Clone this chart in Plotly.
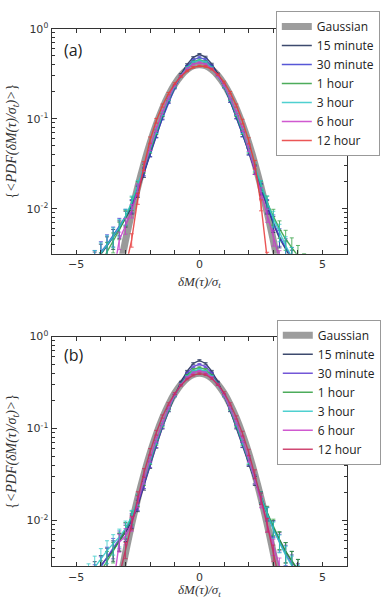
import plotly.graph_objects as go

# ---------------- data ----------------
X = [-4.5, -4.25, -4.0, -3.75, -3.5, -3.25, -3.0, -2.75, -2.5, -2.25, -2.0, -1.75, -1.5,
     -1.25, -1.0, -0.75, -0.5, -0.25, 0.0, 0.25, 0.5, 0.75, 1.0, 1.25, 1.5, 1.75, 2.0,
     2.25, 2.5, 2.75, 3.0, 3.25, 3.5, 3.75, 4.0, 4.25, 4.5]

GAUSS = [None, None, None, None, 0.00087, 0.00203, 0.00443, 0.0091, 0.0175, 0.0317, 0.0540,
         0.0863, 0.1295, 0.1826, 0.2420, 0.3011, 0.3521, 0.3867, 0.3989, 0.3867, 0.3521,
         0.3011, 0.2420, 0.1826, 0.1295, 0.0863, 0.0540, 0.0317, 0.0175, 0.0091, 0.00443,
         0.00203, 0.00087, None, None, None, None]

# relative error of each bin
REL_ERR = [0.35, 0.32, 0.30, 0.28, 0.25, 0.22, 0.20, 0.17, 0.14, 0.11, 0.08, 0.06, 0.04,
           0.03, 0.025, 0.02, 0.02, 0.02, 0.02, 0.02, 0.02, 0.02, 0.025, 0.03, 0.04, 0.06,
           0.08, 0.11, 0.14, 0.17, 0.20, 0.22, 0.25, 0.28, 0.30, 0.32, 0.35]

SERIES_NAMES = ["15 minute", "30 minute", "1 hour", "3 hour", "6 hour", "12 hour"]

# panel (a)
A_15M = [None, 0.0025, 0.0031, 0.0038, 0.0047, 0.006, 0.0078, 0.0105, 0.0155, 0.025, 0.041,
         0.066, 0.103, 0.155, 0.225, 0.31, 0.40, 0.48, 0.52, 0.485, 0.405, 0.315, 0.228,
         0.157, 0.104, 0.067, 0.043, 0.027, 0.0165, 0.0105, 0.0068, 0.0047, 0.0035, 0.0027,
         None, None, None]
A_30M = [None, 0.0026, 0.0033, 0.004, 0.005, 0.0064, 0.0082, 0.0108, 0.016, 0.026, 0.041,
         0.065, 0.101, 0.152, 0.22, 0.30, 0.38, 0.45, 0.48, 0.455, 0.385, 0.305, 0.225,
         0.157, 0.104, 0.067, 0.043, 0.027, 0.0168, 0.0108, 0.0071, 0.0049, 0.0037, 0.0029,
         None, None, None]
A_1H = [None, None, 0.0025, 0.0033, 0.0043, 0.0058, 0.008, 0.0115, 0.0175, 0.028, 0.045,
        0.071, 0.11, 0.163, 0.228, 0.30, 0.37, 0.43, 0.45, 0.43, 0.37, 0.30, 0.228, 0.163,
        0.11, 0.071, 0.045, 0.028, 0.0178, 0.0118, 0.0082, 0.006, 0.0046, 0.0037, 0.003,
        0.0024, None]
A_3H = [None, 0.0026, 0.0032, 0.0039, 0.0049, 0.0062, 0.0082, 0.0118, 0.018, 0.029, 0.046,
        0.073, 0.113, 0.165, 0.23, 0.30, 0.37, 0.425, 0.44, 0.425, 0.37, 0.30, 0.23, 0.165,
        0.113, 0.073, 0.046, 0.029, 0.018, 0.0118, 0.0078, 0.0055, 0.0039, 0.0029,
        None, None, None]
A_6H = [None, None, None, None, 0.0018, 0.0045, 0.0065, 0.0095, 0.0165, 0.029, 0.048,
        0.077, 0.118, 0.17, 0.235, 0.30, 0.36, 0.405, 0.42, 0.405, 0.36, 0.30, 0.235, 0.17,
        0.118, 0.077, 0.047, 0.027, 0.015, 0.0085, 0.0048, 0.0028, None, None, None, None, None]
A_12H = [None, None, None, None, None, None, 0.0022, 0.0045, 0.013, 0.03, 0.058, 0.095,
         0.14, 0.19, 0.245, 0.295, 0.34, 0.372, 0.385, 0.38, 0.355, 0.31, 0.255, 0.195, 0.14,
         0.093, 0.057, 0.031, 0.011, 0.0028, None, None, None, None, None, None, None]

# panel (b)
B_15M = [None, 0.0027, 0.0032, 0.0039, 0.0048, 0.0059, 0.0074, 0.0098, 0.0145, 0.024, 0.04,
         0.065, 0.103, 0.157, 0.23, 0.32, 0.42, 0.51, 0.55, 0.51, 0.42, 0.32, 0.23, 0.157,
         0.103, 0.066, 0.042, 0.027, 0.0175, 0.0118, 0.0083, 0.0061, 0.0046, 0.0036, 0.0029,
         None, None]
B_30M = [None, 0.0025, 0.0031, 0.004, 0.0051, 0.0063, 0.0078, 0.0102, 0.015, 0.025, 0.041,
         0.066, 0.104, 0.157, 0.226, 0.31, 0.40, 0.47, 0.50, 0.47, 0.40, 0.31, 0.227, 0.158,
         0.105, 0.067, 0.043, 0.028, 0.018, 0.012, 0.0082, 0.0058, 0.0043, 0.0033, 0.0026,
         None, None]
B_1H = [None, None, 0.0028, 0.0036, 0.0046, 0.006, 0.0079, 0.0108, 0.0165, 0.027, 0.044,
        0.07, 0.108, 0.16, 0.228, 0.305, 0.38, 0.44, 0.46, 0.44, 0.38, 0.305, 0.228, 0.16,
        0.108, 0.07, 0.044, 0.028, 0.018, 0.0122, 0.0086, 0.0062, 0.0046, 0.0036, 0.0029,
        None, None]
B_3H = [0.0025, 0.0031, 0.0038, 0.0047, 0.0056, 0.0066, 0.0082, 0.011, 0.017, 0.028, 0.045,
        0.072, 0.111, 0.164, 0.23, 0.30, 0.37, 0.42, 0.44, 0.42, 0.37, 0.30, 0.23, 0.164,
        0.111, 0.072, 0.045, 0.028, 0.0178, 0.0118, 0.008, 0.0057, 0.0042, 0.0032, 0.0025,
        None, None]
B_6H = [None, None, None, None, 0.0019, 0.0058, 0.0068, 0.0092, 0.016, 0.028, 0.047, 0.076,
        0.116, 0.168, 0.233, 0.30, 0.36, 0.405, 0.42, 0.405, 0.36, 0.30, 0.233, 0.168, 0.116,
        0.076, 0.047, 0.028, 0.016, 0.009, 0.0052, 0.0032, 0.0019, None, None, None, None]
B_12H = [None, None, None, None, None, 0.0025, 0.0048, 0.0095, 0.018, 0.033, 0.056, 0.09,
         0.135, 0.185, 0.24, 0.295, 0.345, 0.38, 0.395, 0.385, 0.35, 0.30, 0.245, 0.185,
         0.132, 0.088, 0.055, 0.032, 0.0175, 0.009, 0.0045, 0.0022, None, None, None, None, None]

Y_TICKS = [0.01, 0.1, 1]
Y_TICKTEXT = ["10<sup>-2</sup>", "10<sup>-1</sup>", "10<sup>0</sup>"]
Y_MINOR = [0.004, 0.005, 0.006, 0.007, 0.008, 0.009, 0.02, 0.03, 0.04, 0.05, 0.06, 0.07,
           0.08, 0.09, 0.2, 0.3, 0.4, 0.5, 0.6, 0.7, 0.8, 0.9]
X_TICKS = [-5, 0, 5]

# ---------------- styles ----------------
COLORS_A = ["#1b2a55", "#3a3ad0", "#2e9e3e", "#30c8c8", "#c83cc8", "#e83838"]
COLORS_B = ["#1b2a55", "#5a3ad0", "#2e9e3e", "#30c8c8", "#c83cc8", "#c8285a"]

fig = go.Figure()


def errs(vals):
    return [None if v is None else v * r for v, r in zip(vals, REL_ERR)]


def add_panel(series, colors, xa, ya, legend):
    fig.add_trace(go.Scatter(
        x=X, y=GAUSS, mode="lines", name="Gaussian",
        line=dict(color="#8c8c8c", width=7, shape="spline"),
        opacity=0.85, xaxis=xa, yaxis=ya, legend=legend))
    for name, vals, col in zip(SERIES_NAMES, series, colors):
        fig.add_trace(go.Scatter(
            x=X, y=vals, mode="lines", name=name, line=dict(color=col, width=1.4),
            opacity=0.85,
            error_y=dict(type="data", array=errs(vals), color=col, thickness=0.9, width=2),
            xaxis=xa, yaxis=ya, legend=legend, connectgaps=False))


add_panel([A_15M, A_30M, A_1H, A_3H, A_6H, A_12H], COLORS_A, "x", "y", "legend")
add_panel([B_15M, B_30M, B_1H, B_3H, B_6H, B_12H], COLORS_B, "x2", "y2", "legend2")

W, H = 381, 599
xdom = [52 / W, 350 / W]
ydom_a = [1 - 249 / H, 1 - 21 / H]
ydom_b = [1 - 566 / H, 1 - 333 / H]

tickfont = dict(family="DejaVu Sans", size=11, color="#333")
serif = dict(family="Liberation Serif", size=14, color="#333")
serif_x = dict(family="Liberation Serif", size=13, color="#333")


def xaxis(dom, anchor):
    return dict(domain=dom, anchor=anchor, range=[-6, 6], tickmode="array", tickvals=X_TICKS,
                ticks="inside", ticklen=4, tickcolor="#333", showline=True, linecolor="#333",
                linewidth=1.2, mirror="ticks", showgrid=False, zeroline=False, tickfont=tickfont,
                minor=dict(dtick=1, ticks="inside", ticklen=4, tickcolor="#333", showgrid=False),
                title=dict(text="<i>δM(τ)/σ<sub>t</sub></i>", font=serif_x, standoff=6))


def yaxis(dom, anchor):
    return dict(domain=dom, anchor=anchor, type="log", range=[-2.5, 0], tickmode="array",
                tickvals=Y_TICKS, ticktext=Y_TICKTEXT, ticks="inside", ticklen=5,
                tickcolor="#333", showline=True, linecolor="#333", linewidth=1.2,
                mirror="ticks", showgrid=False, zeroline=False, tickfont=tickfont,
                minor=dict(tickvals=Y_MINOR, ticks="inside", ticklen=3, tickcolor="#333",
                           showgrid=False),
                title=dict(text="{<i>&lt;PDF(δM(τ)/σ<sub>t</sub>)&gt;</i>}", font=serif,
                           standoff=6))


legend_style = dict(xanchor="left", yanchor="top", bgcolor="white", bordercolor="#999",
                    borderwidth=1, font=dict(family="Open Sans", size=12, color="#222"),
                    tracegroupgap=0, itemwidth=30)

fig.update_layout(
    width=W, height=H, margin=dict(l=0, r=0, t=0, b=0),
    paper_bgcolor="white", plot_bgcolor="white", showlegend=True,
    xaxis=xaxis(xdom, "y"), yaxis=yaxis(ydom_a, "x"),
    xaxis2=xaxis(xdom, "y2"), yaxis2=yaxis(ydom_b, "x2"),
    legend=dict(x=278 / W, y=1 - 3 / H, **legend_style),
    legend2=dict(x=279 / W, y=1 - 316 / H, **legend_style),
    annotations=[
        dict(text="(a)", x=62 / W, y=1 - 43 / H, xref="paper", yref="paper", xanchor="left",
             yanchor="middle", showarrow=False, font=dict(family="Open Sans", size=16, color="#222")),
        dict(text="(b)", x=62 / W, y=1 - 352 / H, xref="paper", yref="paper", xanchor="left",
             yanchor="middle", showarrow=False, font=dict(family="Open Sans", size=16, color="#222")),
    ],
)

fig.write_html("out.html")
